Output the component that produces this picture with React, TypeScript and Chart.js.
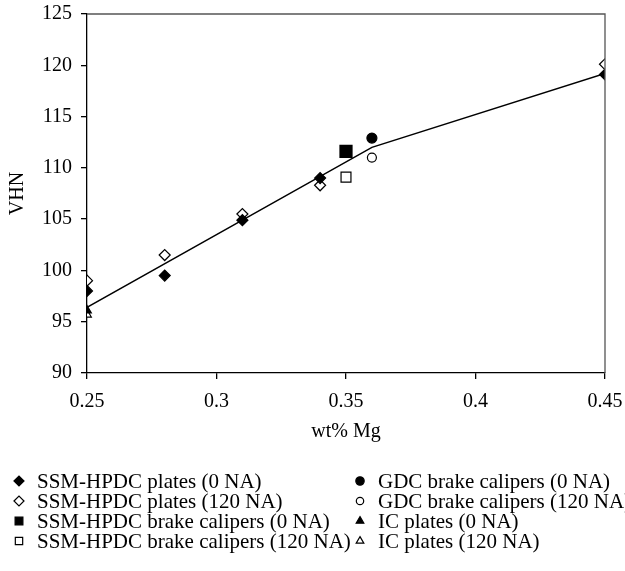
import React, { useEffect, useRef } from 'react';
import { Chart, registerables } from 'chart.js';

Chart.register(...registerables);

// ---- data ----
const xTickValues = [0.25, 0.3, 0.35, 0.4, 0.45];
const yTickValues = [90, 95, 100, 105, 110, 115, 120, 125];

const ssmPlates0X = [0.25, 0.28, 0.31, 0.34, 0.45];
const ssmPlates0Y = [98.0, 99.5, 104.9, 109.0, 119.1];
const ssmPlates120X = [0.25, 0.28, 0.31, 0.34, 0.45];
const ssmPlates120Y = [99.0, 101.5, 105.5, 108.3, 120.1];
const ssmCalipers0X = [0.35];
const ssmCalipers0Y = [111.6];
const ssmCalipers120X = [0.35];
const ssmCalipers120Y = [109.1];
const gdcCalipers0X = [0.36];
const gdcCalipers0Y = [112.9];
const gdcCalipers120X = [0.36];
const gdcCalipers120Y = [111.0];
const icPlates0X = [0.25];
const icPlates0Y = [96.1];
const icPlates120X = [0.25];
const icPlates120Y = [95.7];
const trendX = [0.25, 0.36, 0.45];
const trendY = [96.4, 112.0, 119.2];

const seriesLabels = [
  'SSM-HPDC plates (0 NA)',
  'SSM-HPDC plates (120 NA)',
  'SSM-HPDC brake calipers (0 NA)',
  'SSM-HPDC brake calipers (120 NA)',
  'GDC brake calipers (0 NA)',
  'GDC brake calipers (120 NA)',
  'IC plates (0 NA)',
  'IC plates (120 NA)',
];

const FONT = "'Liberation Serif', 'Times New Roman', serif";

const zip = (xs: number[], ys: number[]) => xs.map((x, i) => ({ x, y: ys[i] }));

type Marker = { style: string; filled: boolean; r: number; lr: number };
const markers: Marker[] = [
  { style: 'rectRot', filled: true, r: 5.5, lr: 5 },
  { style: 'rectRot', filled: false, r: 5.5, lr: 5 },
  { style: 'rect', filled: true, r: 8.5, lr: 5.5 },
  { style: 'rect', filled: false, r: 7, lr: 5.2 },
  { style: 'circle', filled: true, r: 5, lr: 4.2 },
  { style: 'circle', filled: false, r: 4.5, lr: 3.7 },
  { style: 'triangle', filled: true, r: 5, lr: 4.4 },
  { style: 'triangle', filled: false, r: 5, lr: 4.4 },
];

const seriesData = [
  zip(ssmPlates0X, ssmPlates0Y),
  zip(ssmPlates120X, ssmPlates120Y),
  zip(ssmCalipers0X, ssmCalipers0Y),
  zip(ssmCalipers120X, ssmCalipers120Y),
  zip(gdcCalipers0X, gdcCalipers0Y),
  zip(gdcCalipers120X, gdcCalipers120Y),
  zip(icPlates0X, icPlates0Y),
  zip(icPlates120X, icPlates120Y),
];

function drawMarker(ctx: CanvasRenderingContext2D, m: Marker, x: number, y: number, r: number) {
  ctx.save();
  ctx.beginPath();
  if (m.style === 'rectRot') {
    ctx.moveTo(x - r, y);
    ctx.lineTo(x, y - r);
    ctx.lineTo(x + r, y);
    ctx.lineTo(x, y + r);
    ctx.closePath();
  } else if (m.style === 'rect') {
    const h = r * Math.SQRT1_2;
    ctx.rect(x - h, y - h, 2 * h, 2 * h);
  } else if (m.style === 'circle') {
    ctx.arc(x, y, r, 0, Math.PI * 2);
  } else {
    const w = r * Math.sin(Math.PI / 3);
    ctx.moveTo(x, y - r);
    ctx.lineTo(x + w, y + r / 2);
    ctx.lineTo(x - w, y + r / 2);
    ctx.closePath();
  }
  ctx.fillStyle = m.filled ? '#000' : '#fff';
  ctx.fill();
  ctx.lineWidth = 1.2;
  ctx.strokeStyle = '#000';
  ctx.stroke();
  ctx.restore();
}

const framePlugin = {
  id: 'frameAndLegend',
  afterDraw(chart: any) {
    const { ctx, chartArea } = chart;
    ctx.save();
    // top & right frame lines (grey)
    ctx.strokeStyle = '#555';
    ctx.lineWidth = 1.3;
    ctx.beginPath();
    ctx.moveTo(chartArea.left, chartArea.top);
    ctx.lineTo(chartArea.right, chartArea.top);
    ctx.lineTo(chartArea.right, chartArea.bottom);
    ctx.stroke();

    // legend, two columns of four
    const colMarkerX = [19, 360];
    const colTextX = [37, 378];
    const rowY = [481, 501, 521, 541];
    ctx.font = `21px ${FONT}`;
    ctx.textBaseline = 'middle';
    ctx.textAlign = 'left';
    seriesLabels.forEach((label, i) => {
      const col = Math.floor(i / 4);
      const row = i % 4;
      const m = markers[i];
      drawMarker(ctx, m, colMarkerX[col], rowY[row], m.lr);
      ctx.fillStyle = '#000';
      ctx.fillText(label, colTextX[col], rowY[row] + 1);
    });
    ctx.restore();
  },
};

export default function App() {
  const ref = useRef<HTMLCanvasElement | null>(null);

  useEffect(() => {
    if (!ref.current) return;
    const datasets: any[] = seriesData.map((d, i) => ({
      type: 'scatter',
      label: seriesLabels[i],
      data: d,
      pointStyle: markers[i].style,
      pointRadius: markers[i].r,
      pointBackgroundColor: markers[i].filled ? '#000' : '#fff',
      pointBorderColor: '#000',
      pointBorderWidth: 1.2,
      showLine: false,
      order: 1,
    }));
    datasets.push({
      type: 'line',
      label: 'trend',
      data: zip(trendX, trendY),
      borderColor: '#000',
      borderWidth: 1.5,
      pointRadius: 0,
      fill: false,
      tension: 0,
      order: 2,
    });

    const chart = new Chart(ref.current, {
      type: 'scatter',
      data: { datasets },
      options: {
        animation: false,
        responsive: false,
        maintainAspectRatio: false,
        events: [],
        layout: { padding: { left: 0, top: 14, right: 20, bottom: 121 } },
        plugins: {
          legend: { display: false },
          tooltip: { enabled: false },
        },
        scales: {
          x: {
            type: 'linear',
            min: 0.25,
            max: 0.45,
            afterFit: (scale: any) => {
              scale.height = 77;
              scale.paddingLeft = 0;
              scale.paddingRight = 0;
            },
            afterBuildTicks: (scale: any) => {
              scale.ticks = xTickValues.map((v) => ({ value: v }));
            },
            ticks: {
              color: '#000',
              font: { family: FONT, size: 20 },
              padding: 11,
              maxRotation: 0,
              callback: (v: any) => String(Number(Number(v).toFixed(2))),
            },
            grid: {
              display: true,
              drawOnChartArea: false,
              drawTicks: true,
              tickLength: 6,
              color: '#000',
              lineWidth: 1.3,
            },
            border: { display: true, color: '#000', width: 1.3 },
            title: {
              display: true,
              text: 'wt% Mg',
              color: '#000',
              font: { family: FONT, size: 20 },
              padding: { top: 0, bottom: 6 },
            },
          },
          y: {
            type: 'linear',
            min: 90,
            max: 125,
            afterFit: (scale: any) => {
              scale.width = 87;
              scale.paddingTop = 0;
              scale.paddingBottom = 0;
            },
            afterBuildTicks: (scale: any) => {
              scale.ticks = yTickValues.map((v) => ({ value: v }));
            },
            ticks: {
              color: '#000',
              font: { family: FONT, size: 20 },
              padding: 9,
              callback: (v: any) => String(v),
            },
            grid: {
              display: true,
              drawOnChartArea: false,
              drawTicks: true,
              tickLength: 6,
              color: '#000',
              lineWidth: 1.3,
            },
            border: { display: true, color: '#000', width: 1.3 },
            title: {
              display: true,
              text: 'VHN',
              color: '#000',
              font: { family: FONT, size: 20 },
              padding: { top: 6, bottom: 0 },
            },
          },
        },
      },
      plugins: [framePlugin],
    });
    return () => chart.destroy();
  }, []);

  return (
    <div style={{ position: 'fixed', left: 0, top: 0, width: 625, height: 571, background: '#fff' }}>
      <canvas ref={ref} width={625} height={571} style={{ display: 'block', width: 625, height: 571 }} />
    </div>
  );
}
